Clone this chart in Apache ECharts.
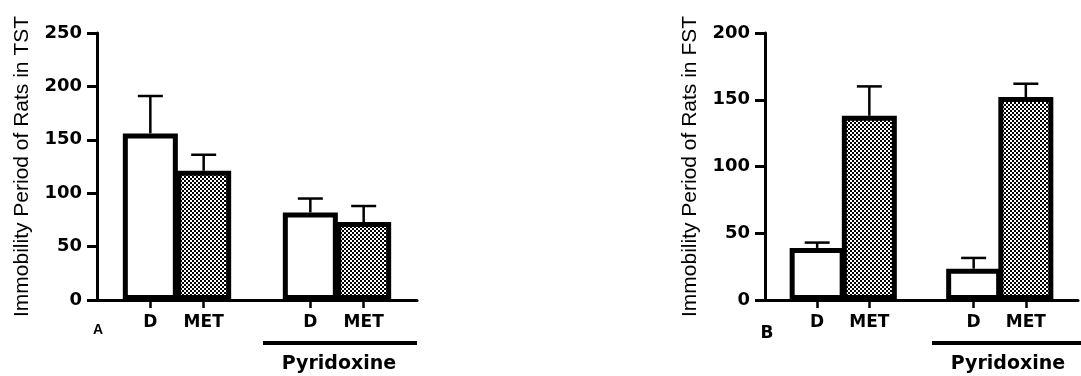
<!DOCTYPE html>
<html>
<head>
<meta charset="utf-8">
<script src="https://cdn.jsdelivr.net/npm/echarts@6/dist/echarts.min.js"></script>
<style>html,body{margin:0;padding:0;background:#fff}#c{width:1081px;height:376px}</style>
</head>
<body>
<div id="c"></div>
<script>
// ---- data ----
const categories = ['', 'D', 'MET', '', 'D', 'MET', ''];
const tstMeans = [null, 156, 121, null, 82, 73, null];
const tstErr   = [null, 35, 15, null, 13, 15, null];
const fstMeans = [null, 39, 138, null, 23.5, 152, null];
const fstErr   = [null, 4, 22, null, 8, 10, null];
const tstAxis = { min: 0, max: 250, interval: 50 };
const fstAxis = { min: 0, max: 200, interval: 50 };
const tstTitle = 'Immobility Period of Rats in TST';
const fstTitle = 'Immobility Period of Rats in FST';
const panelLabels = ['A', 'B'];
const groupLabel = 'Pyridoxine';

// ---- styles ----
const pc = document.createElement('canvas');
pc.width = 4; pc.height = 4;
const pctx = pc.getContext('2d');
pctx.fillStyle = '#fff'; pctx.fillRect(0, 0, 4, 4);
pctx.fillStyle = '#000'; pctx.fillRect(0, 0, 2, 2); pctx.fillRect(2, 2, 2, 2);
const checker = { image: pc, repeat: 'repeat' };

const boldFont = 'DejaVu Sans';
const titleFont = 'Liberation Sans';

function barData(means) {
  return means.map((v, i) => v == null ? '-' : {
    value: v,
    itemStyle: { color: categories[i] === 'MET' ? checker : '#fff' }
  });
}
function errData(means, errs) {
  const out = [];
  means.forEach((v, i) => { if (v != null) out.push([i, v, v + errs[i]]); });
  return out;
}
function errRender(params, api) {
  const x = api.value(0);
  const p0 = api.coord([x, api.value(1)]);
  const p1 = api.coord([x, api.value(2)]);
  const style = { stroke: '#000', lineWidth: 2.5 };
  return {
    type: 'group',
    children: [
      { type: 'line', shape: { x1: p0[0], y1: p0[1], x2: p1[0], y2: p1[1] }, style },
      { type: 'line', shape: { x1: p1[0] - 12.5, y1: p1[1], x2: p1[0] + 12.5, y2: p1[1] }, style }
    ]
  };
}
function xAxisFor(gi) {
  return {
    type: 'category', gridIndex: gi, data: categories, boundaryGap: false,
    axisLine: { lineStyle: { color: '#000', width: 3 } },
    axisTick: { alignWithLabel: true, length: 8, interval: (i, v) => v !== '', lineStyle: { color: '#000', width: 2.5 } },
    axisLabel: { interval: 0, color: '#000', fontFamily: boldFont, fontWeight: 'bold', fontSize: 17, margin: 14 },
    splitLine: { show: false }
  };
}
function yAxisFor(gi, ax, title) {
  return {
    type: 'value', gridIndex: gi, min: ax.min, max: ax.max, interval: ax.interval,
    name: title, nameLocation: 'middle', nameRotate: 90, nameGap: 64,
    nameTextStyle: { color: '#000', fontFamily: titleFont, fontSize: 21 },
    axisLine: { show: true, lineStyle: { color: '#000', width: 3 } },
    axisTick: { show: true, length: 10, lineStyle: { color: '#000', width: 3 } },
    axisLabel: { color: '#000', fontFamily: boldFont, fontWeight: 'bold', fontSize: 18, margin: 15 },
    splitLine: { show: false }
  };
}

const chart = echarts.init(document.getElementById('c'), null, { renderer: 'canvas' });
chart.setOption({
  animation: false,
  backgroundColor: '#fff',
  grid: [
    { left: 97, top: 33, height: 267, width: 320 },
    { left: 765, top: 33, height: 267, width: 320 }
  ],
  xAxis: [xAxisFor(0), xAxisFor(1)],
  yAxis: [yAxisFor(0, tstAxis, tstTitle), yAxisFor(1, fstAxis, fstTitle)],
  series: [
    { type: 'bar', xAxisIndex: 0, yAxisIndex: 0, data: barData(tstMeans), barWidth: 55,
      itemStyle: { borderColor: '#000', borderWidth: 5 }, z: 2 },
    { type: 'bar', xAxisIndex: 1, yAxisIndex: 1, data: barData(fstMeans), barWidth: 55,
      itemStyle: { borderColor: '#000', borderWidth: 5 }, z: 2 },
    { type: 'custom', xAxisIndex: 0, yAxisIndex: 0, data: errData(tstMeans, tstErr), renderItem: errRender, z: 3 },
    { type: 'custom', xAxisIndex: 1, yAxisIndex: 1, data: errData(fstMeans, fstErr), renderItem: errRender, z: 3 }
  ],
  graphic: [
    { type: 'text', x: 98, y: 330, style: { text: panelLabels[0], font: 'bold 14px "Liberation Sans"', fill: '#000', align: 'center', verticalAlign: 'middle' } },
    { type: 'text', x: 767, y: 334, style: { text: panelLabels[1], font: 'bold 17px "DejaVu Sans"', fill: '#000', align: 'center', verticalAlign: 'middle' } },
    { type: 'line', shape: { x1: 263, y1: 343, x2: 417, y2: 343 }, style: { stroke: '#000', lineWidth: 4 } },
    { type: 'line', shape: { x1: 932, y1: 343, x2: 1081, y2: 343 }, style: { stroke: '#000', lineWidth: 4 } },
    { type: 'text', x: 339, y: 364, style: { text: groupLabel, font: 'bold 19px "DejaVu Sans"', fill: '#000', align: 'center', verticalAlign: 'middle' } },
    { type: 'text', x: 1008, y: 364, style: { text: groupLabel, font: 'bold 19px "DejaVu Sans"', fill: '#000', align: 'center', verticalAlign: 'middle' } }
  ]
});
</script>
</body>
</html>
